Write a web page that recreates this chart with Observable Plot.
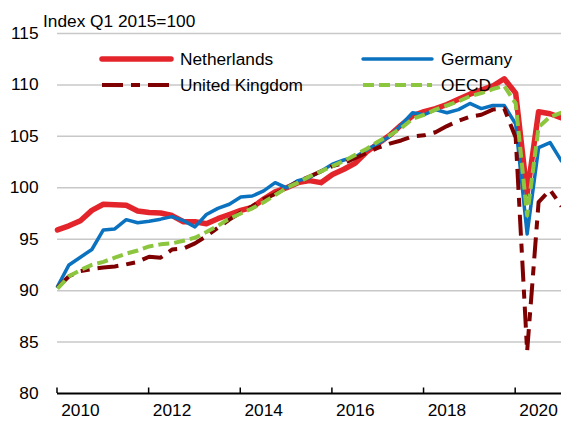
<!DOCTYPE html>
<html>
<head>
<meta charset="utf-8">
<script src="https://cdn.jsdelivr.net/npm/d3@7"></script>
<script src="https://cdn.jsdelivr.net/npm/@observablehq/plot@0.6"></script>
<style>
  html, body { margin: 0; padding: 0; background: #fff; }
  #chart svg { display: block; }
</style>
</head>
<body>
<div id="chart"></div>
<script>
const title = "Index Q1 2015=100";

const quarters = [
  "2010Q1","2010Q2","2010Q3","2010Q4","2011Q1","2011Q2","2011Q3","2011Q4",
  "2012Q1","2012Q2","2012Q3","2012Q4","2013Q1","2013Q2","2013Q3","2013Q4",
  "2014Q1","2014Q2","2014Q3","2014Q4","2015Q1","2015Q2","2015Q3","2015Q4",
  "2016Q1","2016Q2","2016Q3","2016Q4","2017Q1","2017Q2","2017Q3","2017Q4",
  "2018Q1","2018Q2","2018Q3","2018Q4","2019Q1","2019Q2","2019Q3","2019Q4",
  "2020Q1","2020Q2","2020Q3","2020Q4","2021Q1"
];

const netherlands = [
  95.9, 96.3, 96.8, 97.8, 98.4, 98.35, 98.3, 97.75,
  97.6, 97.55, 97.3, 96.7, 96.7, 96.5, 97.0, 97.4,
  97.8, 98.1, 98.9, 99.6, 100.0, 100.5, 100.7, 100.5,
  101.3, 101.8, 102.4, 103.5, 104.3, 105.1, 106.1, 107.0,
  107.4, 107.7, 108.1, 108.6, 109.1, 109.5, 109.9, 110.6,
  109.2, 99.4, 107.4, 107.2, 106.8
];
const germany = [
  90.4, 92.5, 93.25, 94.0, 95.9, 96.0, 96.9, 96.6,
  96.75, 96.95, 97.2, 96.8, 96.2, 97.4, 98.0, 98.4,
  99.1, 99.2, 99.7, 100.5, 100.0, 100.7, 101.0, 101.6,
  102.3, 102.7, 103.0, 103.7, 104.3, 105.0, 106.1, 107.3,
  107.1, 107.6, 107.3, 107.6, 108.2, 107.7, 108.0, 108.0,
  106.2, 95.5, 103.9, 104.4, 102.6
];
const unitedKingdom = [
  90.3, 91.4, 91.9, 92.1, 92.25, 92.35, 92.55, 92.8,
  93.3, 93.2, 94.0, 94.1, 94.6, 95.3, 96.1, 96.9,
  97.6, 98.2, 98.9, 99.4, 100.0, 100.6, 101.1, 101.6,
  102.1, 102.4, 102.9, 103.4, 103.9, 104.3, 104.6, 105.0,
  105.1, 105.4, 106.0, 106.5, 106.9, 107.1, 107.6, 107.7,
  104.9, 84.1, 98.6, 99.8, 98.2
];
const oecd = [
  90.2, 91.4, 92.0, 92.5, 92.8, 93.2, 93.6, 93.9,
  94.3, 94.5, 94.6, 94.85, 95.15, 95.7, 96.3, 97.0,
  97.5, 98.0, 98.6, 99.3, 100.0, 100.5, 101.1, 101.6,
  102.1, 102.6, 103.2, 103.8, 104.5, 105.1, 105.8, 106.7,
  107.1, 107.6, 108.0, 108.4, 108.9, 109.2, 109.6, 109.9,
  108.2, 97.3, 105.9, 106.9, 107.3
];

const yTicks = [80, 85, 90, 95, 100, 105, 110, 115];
const tickYears = [2010, 2012, 2014, 2016, 2018, 2020];
const labelYears = [2010, 2012, 2014, 2016, 2018, 2020];

const series = [
  {name: "Netherlands", values: netherlands, color: "#e3242b", width: 5.5, dash: null, cap: "round"},
  {name: "Germany", values: germany, color: "#0b72c0", width: 3.5, dash: null, cap: "round"},
  {name: "United Kingdom", values: unitedKingdom, color: "#7f0000", width: 4, dash: "21,8,9,8", cap: "butt"},
  {name: "OECD", values: oecd, color: "#8cc63f", width: 4, dash: "11,5", cap: "butt"}
];

const qx = q => +q.slice(0, 4) + (+q.slice(5) - 1) / 4;

const W = 561, H = 421;
const mL = 57, mR = 0, mT = 33, mB = 28;
const FS = 17.3;
const FONT = "'Liberation Sans', Arial, Helvetica, sans-serif";

const lineMarks = series.map(s => Plot.line(
  quarters.map((q, i) => ({x: qx(q), y: s.values[i]})),
  {x: "x", y: "y", stroke: s.color, strokeWidth: s.width,
   strokeDasharray: s.dash, strokeLinejoin: "round", strokeLinecap: s.cap}
));

const chart = Plot.plot({
  width: W, height: H,
  marginLeft: mL, marginRight: mR, marginTop: mT, marginBottom: mB,
  style: {fontFamily: FONT, fontSize: FS + "px", color: "#000", background: "#fff"},
  x: {domain: [2010, 2021], axis: null},
  y: {domain: [80, 115], axis: null},
  marks: [
    Plot.ruleY(yTicks.filter(v => v > 80), {y: d => d, stroke: "#c8c8c8", strokeWidth: 1.5}),
    ...lineMarks,
    Plot.ruleY([80], {y: d => d, stroke: "#000", strokeWidth: 2}),
    Plot.axisY(yTicks, {tickSize: 0, tickPadding: 19, label: null, fontSize: FS}),
    Plot.axisX(labelYears.map(y => y + 0.5), {tickSize: 0, tickPadding: 10, label: null, fontSize: FS,
      tickFormat: d => String(Math.floor(d))})
  ]
});

document.getElementById("chart").appendChild(chart);

const svg = d3.select(chart);
const xs = chart.scale("x");
const ys = chart.scale("y");
const y0 = ys.apply(80);

// x-axis tick marks pointing up into the plot
const tg = svg.append("g").attr("stroke", "#000").attr("stroke-width", 1.5);
tickYears.forEach(t => {
  const x = xs.apply(t);
  tg.append("line").attr("x1", x).attr("x2", x).attr("y1", y0).attr("y2", y0 - 5.5);
});

// title
svg.append("text")
  .attr("x", 43).attr("y", 27)
  .attr("text-anchor", "start")
  .attr("font-family", FONT).attr("font-size", FS)
  .attr("fill", "#000")
  .text(title);

// legend (two rows x two columns)
const legendPos = [
  {x: 102, y: 59}, {x: 363, y: 59},
  {x: 102, y: 85}, {x: 363, y: 85}
];
const g = svg.append("g").attr("font-family", FONT).attr("font-size", FS).attr("text-anchor", "start");
series.forEach((s, i) => {
  const p = legendPos[i];
  g.append("line")
    .attr("x1", p.x).attr("x2", p.x + 69)
    .attr("y1", p.y).attr("y2", p.y)
    .attr("stroke", s.color).attr("stroke-width", s.width)
    .attr("stroke-linecap", s.cap)
    .attr("stroke-dasharray", s.dash);
  g.append("text")
    .attr("x", p.x + 78).attr("y", p.y + 6)
    .attr("fill", "#000")
    .text(s.name);
});
</script>
</body>
</html>
